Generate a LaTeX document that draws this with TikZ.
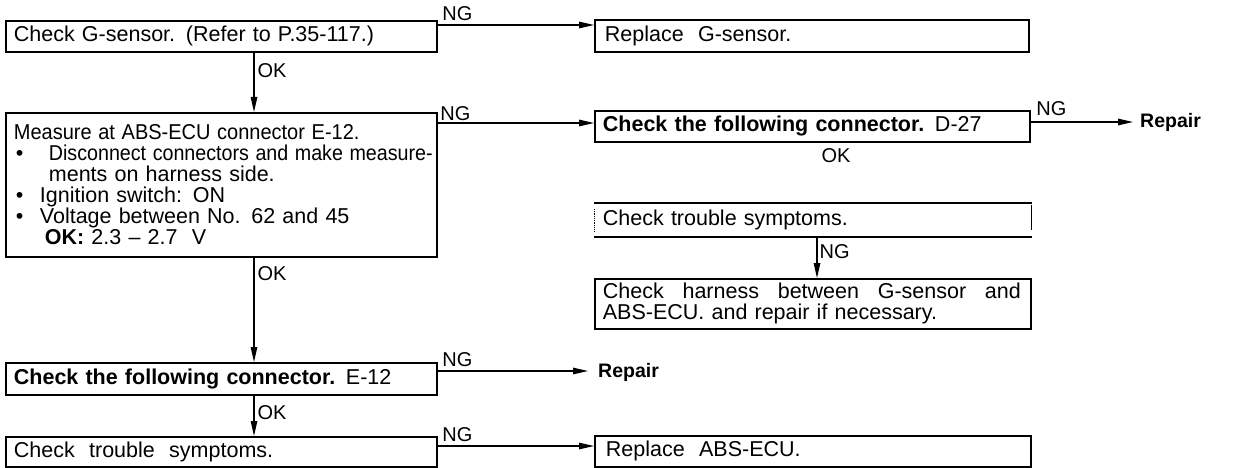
\documentclass[tikz,border=0pt]{standalone}
\usepackage{fontspec}
\usepackage{graphicx}
\setmainfont{Liberation Sans}
\usetikzlibrary{arrows.meta}
\newcommand\dfont{\fontsize{21.5}{21}\selectfont}
\newcommand\lfont{\fontsize{20}{21}\selectfont}
\newcommand\repfont{\fontsize{19.5}{21}\selectfont\bfseries}
\begin{document}
\begin{tikzpicture}[x=1pt,y=-1pt,
  box/.style={draw, line width=1.8pt, anchor=north west, inner xsep=8pt, inner ysep=0pt, align=left, font=\dfont},
  conn/.style={line width=1.2pt, -{Triangle[length=15pt,width=6.5pt]}},
  lbl/.style={font=\lfont, inner sep=1pt},
  replbl/.style={inner ysep=1pt, inner xsep=0pt, anchor=west}]
\useasboundingbox (0,0) rectangle (1257,468);

% left column
\node[box, minimum width=431pt, minimum height=31pt, text width=415pt] (b1) at (5,20)
  {Check G-sensor. (Refer to P.35-117.)};
\node[box, minimum width=431pt, minimum height=144pt, text width=415pt] (b2) at (5,112)
  {\mbox{\scalebox{0.93}[1]{Measure\ at\ ABS-ECU\ connector\ E-12.}}\\
   \mbox{\hspace*{2pt}\makebox[33pt][l]{\textbullet}\scalebox{0.915}[1]{Disconnect connectors and make measure-}}\\
   \mbox{\hspace*{35pt}ments on harness side.}\\
   \mbox{\hspace*{2pt}\makebox[24pt][l]{\textbullet}Ignition switch: ON}\\
   \mbox{\hspace*{2pt}\makebox[24pt][l]{\textbullet}Voltage between No. 62 and 45}\\
   \mbox{\hspace*{31pt}\textbf{OK:} 2.3 -- 2.7\ \ V}};
\node[box, minimum width=431pt, minimum height=32pt, text width=415pt] (b3) at (5,362)
  {\textbf{Check the following connector.} E-12};
\node[box, minimum width=431pt, minimum height=30pt, text width=415pt] (b4) at (5,436)
  {Check\ \ trouble\ \ symptoms.};

% right column
\node[box, minimum width=434pt, minimum height=32pt, text width=414pt, inner xsep=10pt] (r1) at (594,19)
  {Replace\ \ G-sensor.};
\node[box, minimum width=435pt, minimum height=31pt, text width=419pt] (d27) at (594,110)
  {\textbf{Check the following connector.} D-27};
\node[box, draw=none, minimum width=436pt, minimum height=32pt, text width=420pt] (t2) at (594,203)
  {Check trouble symptoms.};
\draw[line width=1.8pt] (t2.north west) -- (t2.north east);
\draw[line width=1.8pt] (t2.south west) -- (t2.south east);
\draw[line width=0.8pt, densely dotted] ([yshift=-6pt]t2.north west) -- ([yshift=6pt]t2.south west);
\draw[line width=0.9pt] ([yshift=-2pt]t2.north east) -- ([yshift=7pt]t2.south east);
\node[box, minimum width=436pt, minimum height=50pt, text width=420pt] (h2) at (594,278)
  {\hbox to 418pt{Check\hfill harness\hfill between\hfill G-sensor\hfill and}\\ABS-ECU. and repair if necessary.};
\node[box, minimum width=436pt, minimum height=31pt, text width=414pt, inner xsep=11pt] (r2) at (594,435)
  {Replace\ \ ABS-ECU.};

\node[replbl] (rep1) at (1140,122) {\repfont Repair};
\node[replbl] (rep2) at (598,372) {\repfont Repair};
\node[lbl] (okd) at (836,156) {OK};

% helper coordinates
\coordinate (vx) at (254,0);
\coordinate (vr) at (817,0);
\coordinate (y1) at (0,25);
\coordinate (y2) at (0,123);
\coordinate (y3) at (0,122);
\coordinate (y4) at (0,371);
\coordinate (y5) at (0,446);

% NG connectors
\draw[conn] (b1.east |- y1) -- node[pos=0, lbl, anchor=south west, xshift=3pt, yshift=3pt]{NG} (r1.west |- y1);
\draw[conn] (b2.east |- y2) -- node[pos=0, lbl, anchor=south west, xshift=1pt, yshift=1pt]{NG} (d27.west |- y2);
\draw[conn] (d27.east |- y3) -- node[pos=0, lbl, anchor=south west, xshift=4pt, yshift=5pt]{NG} ([xshift=-7pt]rep1.west |- y3);
\draw[conn] (b3.east |- y4) -- node[pos=0, lbl, anchor=south west, xshift=3pt, yshift=3pt]{NG} ([xshift=-10pt]rep2.west |- y4);
\draw[conn] (b4.east |- y5) -- node[pos=0, lbl, anchor=south west, xshift=3pt, yshift=3pt]{NG} (r2.west |- y5);

% vertical connectors
\draw[conn] (b1.south -| vx) -- node[pos=0, lbl, anchor=north west, xshift=2pt, yshift=-9pt]{OK} (b2.north -| vx);
\draw[conn] (b2.south -| vx) -- node[pos=0, lbl, anchor=north west, xshift=2pt, yshift=-7pt]{OK} (b3.north -| vx);
\draw[conn] (b3.south -| vx) -- node[pos=0, lbl, anchor=north west, xshift=2pt, yshift=-8pt]{OK} (b4.north -| vx);
\draw[conn] (t2.south -| vr) -- node[pos=0, lbl, anchor=north west, xshift=1pt, yshift=-6pt]{NG} (h2.north -| vr);
\end{tikzpicture}
\end{document}
